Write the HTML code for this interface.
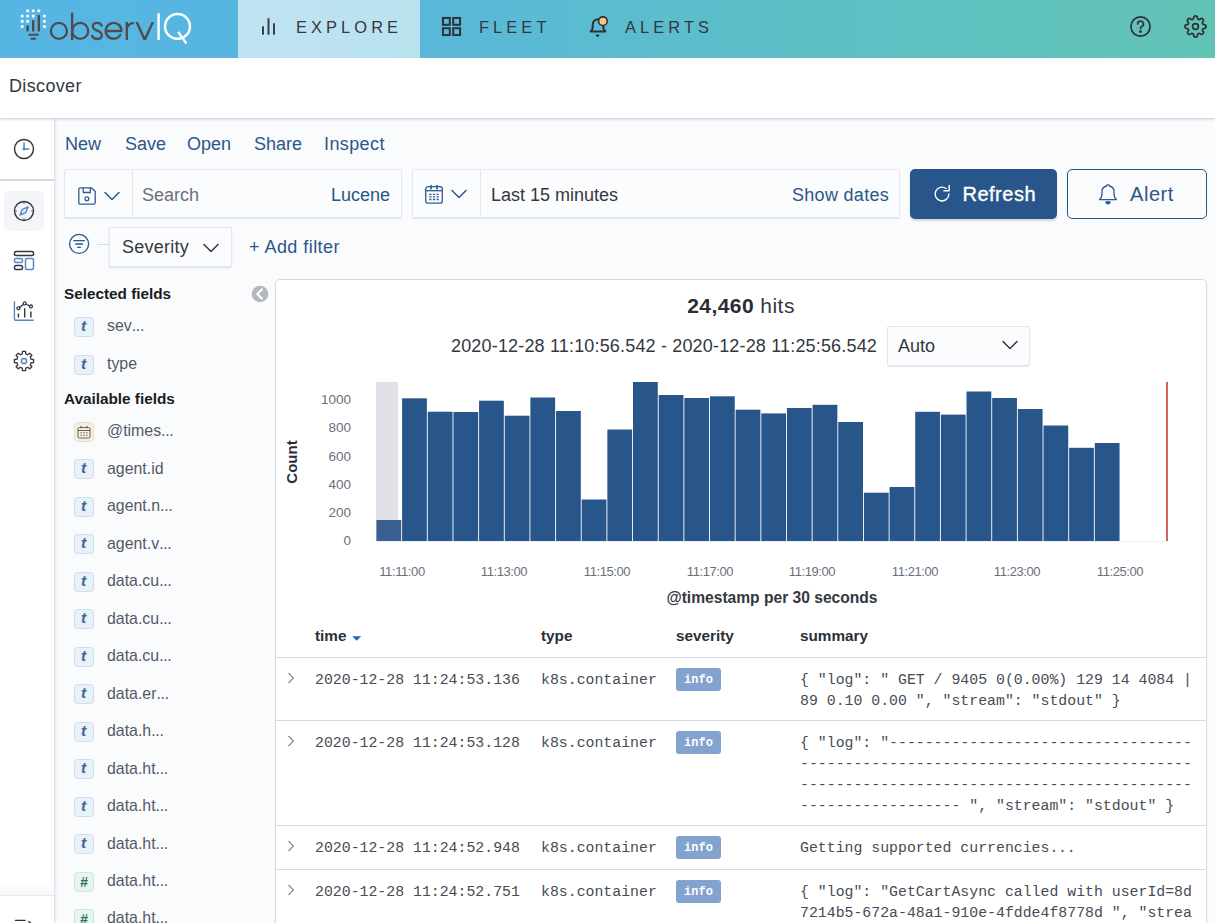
<!DOCTYPE html>
<html>
<head>
<meta charset="utf-8">
<title>Discover</title>
<style>
*{box-sizing:border-box;margin:0;padding:0}
html,body{width:1215px;height:923px;overflow:hidden;background:#fafbfd;font-family:"Liberation Sans",sans-serif;color:#343741}
.abs{position:absolute}
.t{position:absolute;white-space:nowrap;line-height:1}
#hdr{position:absolute;left:0;top:0;width:1215px;height:58px;background:linear-gradient(90deg,#56b5e3 0%,#57b6e0 20%,#5ab9d6 40%,#5dbfc6 65%,#62c4b5 100%)}
#hdr .tab{position:absolute;left:238px;top:0;width:182px;height:58px;background:linear-gradient(90deg,#c0e3f3,#b9e2ef)}
.navt{position:absolute;top:17px;font-size:16.400px;letter-spacing:4.100px;color:#33373e;white-space:nowrap;line-height:20px}
#disc{position:absolute;left:0;top:58px;width:1215px;height:61px;z-index:2;background:#fff;border-bottom:1px solid #d3dae6;box-shadow:0 2px 2px -1px rgba(152,162,179,.3)}
#lnav{position:absolute;left:0;top:119px;width:55px;height:804px;background:#fff;border-right:1px solid #dde2eb;box-shadow:1px 0 2px rgba(152,162,179,.2)}
.lnk{color:#2b5687}
#side{position:absolute;left:55px;top:270px;width:218px;height:660px}
.fi{position:absolute;left:74px;width:20px;height:20px;border-radius:3.500px;border:1px solid #cfdcef;background:#eaf0f8;color:#3c689a;font-family:"Liberation Sans",sans-serif;font-style:italic;font-weight:bold;font-size:15.500px;text-align:center;line-height:16.500px;text-indent:-1px}
.fi.n{background:#e8f5ef;border-color:#cbe9db;color:#2f7660;font-size:14px;line-height:18px;text-indent:0}
.fi.d{background:#f3efe4;border-color:#e5dec9}
.fn{position:absolute;margin-top:.500px;left:107px;font-size:15.900px;color:#535966;white-space:nowrap;line-height:20px}
.sh{position:absolute;left:64px;font-size:15.300px;font-weight:bold;color:#1a1c21;white-space:nowrap;line-height:20px}
#panel{position:absolute;left:275px;top:279px;width:932px;height:700px;background:#fff;border:1px solid #d3dae6;border-radius:5px;box-shadow:0 2px 2px -1px rgba(152,162,179,.3)}
.mono{font-family:"Liberation Mono",monospace}
.row{position:absolute;left:276px;width:930px;border-top:1px solid #d3dae6}
.cell{position:absolute;margin-top:1.500px;font-family:"Liberation Mono",monospace;font-size:14.85px;line-height:21px;color:#484c55;white-space:pre}
.badge{position:absolute;margin-top:-1px;left:676px;width:45px;height:23px;border-radius:3px;background:#82a3ce;color:#fff;font-family:"Liberation Mono",monospace;font-weight:bold;font-size:12px;line-height:25.500px;text-align:center}
.th{position:absolute;top:626px;font-size:15.300px;font-weight:bold;color:#2c2f37;line-height:20px}
.yl{position:absolute;margin-top:.500px;width:40px;left:311px;text-align:right;font-size:13.500px;color:#69707d;line-height:14px}
.xl{position:absolute;top:565px;width:80px;text-align:center;font-size:13px;letter-spacing:-0.4px;color:#69707d;line-height:14px}
</style>
</head>
<body>
<!-- HEADER -->
<div id="hdr">
  <div class="tab"></div>
  <!-- logo -->
  <svg class="abs" style="left:0;top:0" width="238" height="58" viewBox="0 0 238 58">
    <g fill="#fff">
      <circle cx="27.600" cy="10.800" r="1.550"/><circle cx="33.200" cy="10.800" r="1.550"/><circle cx="38.800" cy="10.800" r="1.550"/>
      <circle cx="22.200" cy="16.100" r="1.550"/><circle cx="27.600" cy="16.100" r="1.550"/><circle cx="33.200" cy="16.100" r="1.550"/><circle cx="44.400" cy="16.100" r="1.550"/>
      <circle cx="22.200" cy="21.300" r="1.550"/><circle cx="27.600" cy="21.300" r="1.550"/><circle cx="44.400" cy="21.300" r="1.550"/>
      <circle cx="22.200" cy="26.500" r="1.550"/><circle cx="44.400" cy="26.500" r="1.550"/>
    </g>
    <g stroke="#4f4b4d" stroke-width="2.400" stroke-linecap="round" fill="none">
      <path d="M27.600 26.400v4M33.200 21.100v9.300M38.800 15.900v14.500"/>
      <path d="M29.200 34.700h8.600M31.500 38.800h3.600" stroke-width="2.100"/>
    </g>
    <g stroke="#4f4b4d" stroke-width="2.300" fill="none">
      <circle cx="58.900" cy="30.900" r="8"/>
      <path d="M72.100 12.600V40.100"/><circle cx="80.200" cy="30.900" r="8"/>
      <path d="M101.700 25.600C100.900 23.800 99.300 22.900 97.200 22.900C94.500 22.900 92.900 24.400 92.900 26.400C92.900 28.800 94.900 29.700 97.300 30.600C99.900 31.600 101.800 32.700 101.800 35.300C101.800 37.600 99.900 39 97.200 39C94.900 39 93.100 37.900 92.100 35.900" stroke-linecap="round"/>
      <path d="M105.700 31H121.500A7.900 7.900 0 1 0 120.300 35" stroke-linecap="round" stroke-linejoin="round"/>
      <path d="M126.800 22V39.900M126.800 29.800C126.800 25.600 129.600 23 134 23.200"/>
    </g>
    <path d="M135.400 22h2.500l6.900 14.800 6.800-14.800h2.500l-8.100 17.900h-2.500z" fill="#4f4b4d"/>
    <rect x="157.400" y="13.200" width="2.400" height="26.700" fill="#fff"/>
    <circle cx="177.500" cy="26.400" r="12.450" fill="none" stroke="#fff" stroke-width="2.500"/>
    <path d="M178.200 31.900l8.100 11.500" stroke="#fff" stroke-width="2.500"/>
  </svg>
  <!-- explore icon -->
  <svg class="abs" style="left:258px;top:14px" width="24" height="24" viewBox="0 0 24 24" fill="none" stroke="#3a3f47" stroke-width="2" stroke-linecap="round"><path d="M5 13v7M10.5 5v15M16 10v10"/></svg>
  <div class="navt" style="left:296px">EXPLORE</div>
  <svg class="abs" style="left:440px;top:15px" width="23.500" height="23.500" viewBox="0 0 24 24" fill="none" stroke="#2e3036" stroke-width="2"><rect x="3" y="3" width="7" height="7"/><rect x="13.5" y="3" width="7" height="7"/><rect x="3" y="13.5" width="7" height="7"/><rect x="13.5" y="13.5" width="7" height="7"/></svg>
  <div class="navt" style="left:479px">FLEET</div>
  <svg class="abs" style="left:586px;top:13px" width="26" height="28" viewBox="0 0 26 28" fill="none" stroke="#2e3036" stroke-width="2" stroke-linecap="round" stroke-linejoin="round"><path d="M4.600 18.500h14.800c-1.800-1.400-2.200-3-2.200-5.800V11.500a5.200 5.200 0 0 0-10.400 0v1.200c0 2.800-.4 4.400-2.200 5.800z"/><path d="M10.400 22.200l1.100 1 1.100-1" stroke-width="1.600"/><circle cx="16.900" cy="8.200" r="4.300" fill="#fbc877" stroke="#2e3036" stroke-width="1.600"/></svg>
  <div class="navt" style="left:625px">ALERTS</div>
  <!-- help -->
  <svg class="abs" style="left:1129px;top:15px" width="23" height="23" viewBox="0 0 24 24" fill="none" stroke="#2e3138" stroke-width="1.800" stroke-linecap="round"><circle cx="12" cy="12" r="10"/><path d="M9 9.300a3 3 0 1 1 4.300 2.700c-.9.500-1.300 1-1.300 2.200"/><circle cx="12" cy="17.300" r=".6" fill="#2e3138"/></svg>
  <!-- gear -->
  <svg class="abs" style="left:1184px;top:15px" width="23" height="23" viewBox="0 0 24 24" fill="none" stroke="#2e3138" stroke-width="1.800" stroke-linejoin="round"><circle cx="12" cy="12" r="3"/><path d="M19.400 15a1.650 1.650 0 0 0 .33 1.820l.060.060a2 2 0 1 1-2.830 2.830l-.060-.060a1.650 1.650 0 0 0-1.820-.33 1.650 1.650 0 0 0-1 1.510V21a2 2 0 0 1-4 0v-.090A1.650 1.650 0 0 0 9 19.400a1.650 1.650 0 0 0-1.820.33l-.060.060a2 2 0 1 1-2.830-2.830l.060-.060a1.650 1.650 0 0 0 .33-1.820 1.650 1.650 0 0 0-1.510-1H3a2 2 0 0 1 0-4h.090A1.650 1.650 0 0 0 4.600 9a1.650 1.650 0 0 0-.33-1.820l-.060-.060a2 2 0 1 1 2.830-2.830l.060.060a1.650 1.650 0 0 0 1.820.33H9a1.650 1.650 0 0 0 1-1.510V3a2 2 0 0 1 4 0v.090a1.650 1.650 0 0 0 1 1.510 1.650 1.650 0 0 0 1.820-.33l.060-.060a2 2 0 1 1 2.830 2.830l-.060.060a1.650 1.650 0 0 0-.33 1.820V9a1.650 1.650 0 0 0 1.510 1H21a2 2 0 0 1 0 4h-.090a1.650 1.650 0 0 0-1.510 1z"/></svg>
</div>
<!-- DISCOVER BAR -->
<div id="disc"><div class="t" style="left:9px;top:18px;font-size:18px;letter-spacing:.35px;color:#343741;line-height:20px">Discover</div></div>
<!-- LEFT NAV -->
<div id="lnav"></div>
<!-- left nav icons -->
<div class="abs" style="left:0;top:179px;width:54px;height:2px;background:#d3dae6"></div>
<div class="abs" style="left:4px;top:191px;width:40px;height:40px;border-radius:5px;background:#f3f5f9"></div>
<svg class="abs" style="left:12px;top:137px" width="24" height="24" viewBox="0 0 24 24" fill="none" stroke-width="1.500"><circle cx="12" cy="12" r="9.500" stroke="#343741"/><path d="M12 5.200v6.800h5.300" stroke="#5a84c4" stroke-width="1.500"/><circle cx="12" cy="12" r="1.500" fill="#5a84c4"/></svg>
<svg class="abs" style="left:12px;top:199px" width="24" height="24" viewBox="0 0 24 24" fill="none" stroke-width="1.400"><circle cx="12" cy="12" r="9.500" stroke="#343741"/><path d="M16 8l-2.400 5.600L8 16l2.400-5.600z" stroke="#5a84c4" stroke-linejoin="round"/><path d="M12 3.500v1.200M12 19.300v1.200M3.500 12h1.200M19.300 12h1.200" stroke="#343741" stroke-width="1.200"/></svg>
<svg class="abs" style="left:12px;top:249px" width="24" height="24" viewBox="0 0 24 24" fill="none" stroke-width="1.500"><rect x="2.500" y="2.500" width="19" height="4" rx="1.500" stroke="#343741"/><rect x="2.500" y="9.500" width="8" height="4" rx="1.500" stroke="#5a84c4"/><rect x="2.500" y="16.500" width="8" height="4" rx="1.500" stroke="#343741"/><rect x="13.500" y="9.500" width="8" height="11" rx="1.500" stroke="#5a84c4"/></svg>
<svg class="abs" style="left:12px;top:299px" width="24" height="24" viewBox="0 0 24 24" fill="none" stroke-width="1.300"><path d="M2.400 2.300V20a1.200 1.200 0 0 0 1.200 1.200H21.800" stroke="#5a84c4" stroke-width="1.400"/><path d="M6.400 14.400v4.100M12.700 9.300v9.200M18.900 12.500v6" stroke="#343741" stroke-width="1.400"/><path d="M6.400 9.300l6.300-4.900 6.200 3.100" stroke="#343741"/><circle cx="6.400" cy="9.300" r="1.500" fill="#fff" stroke="#343741"/><circle cx="12.700" cy="4.400" r="1.500" fill="#fff" stroke="#343741"/><circle cx="18.900" cy="7.500" r="1.500" fill="#fff" stroke="#343741"/></svg>
<svg class="abs" style="left:12px;top:349px" width="24" height="24" viewBox="0 0 24 24" fill="none" stroke-width="1.300" stroke-linejoin="round"><circle cx="12" cy="12" r="2.600" stroke="#5a84c4" stroke-width="1.500"/><path stroke="#343741" d="M10.23 4.92 L10.48 2.42 L13.52 2.42 L13.77 4.92 L15.76 5.74 L17.70 4.15 L19.85 6.30 L18.26 8.24 L19.08 10.23 L21.58 10.48 L21.58 13.52 L19.08 13.77 L18.26 15.76 L19.85 17.70 L17.70 19.85 L15.76 18.26 L13.77 19.08 L13.52 21.58 L10.48 21.58 L10.23 19.08 L8.24 18.26 L6.30 19.85 L4.15 17.70 L5.74 15.76 L4.92 13.77 L2.42 13.52 L2.42 10.48 L4.92 10.23 L5.74 8.24 L4.15 6.30 L6.30 4.15 L8.24 5.74Z"/></svg>
<div class="abs" style="left:0;top:882px;width:54px;height:14px;background:linear-gradient(180deg,rgba(255,255,255,0),#f6f7f9)"></div><div class="abs" style="left:0;top:895px;width:54px;height:1px;background:#e6e9ef"></div>
<svg class="abs" style="left:12px;top:914px" width="24" height="12" viewBox="0 0 24 12" fill="none" stroke="#2e3138" stroke-width="1.400" stroke-linecap="round"><path d="M3.500 6.400h9.500M16.800 7.500l3 3"/></svg>

<!-- top nav links -->
<div class="t lnk" style="left:65px;top:134px;font-size:18px;line-height:20px">New</div>
<div class="t lnk" style="left:125px;top:134px;font-size:18px;line-height:20px">Save</div>
<div class="t lnk" style="left:187px;top:134px;font-size:18px;line-height:20px">Open</div>
<div class="t lnk" style="left:254px;top:134px;font-size:18px;line-height:20px">Share</div>
<div class="t lnk" style="left:324px;top:134px;font-size:18px;line-height:20px;letter-spacing:.4px">Inspect</div>
<!-- query bar -->
<div class="abs" style="left:64px;top:169px;width:338px;height:49px;background:#fbfcfd;border:1px solid #e3e7ee;border-radius:2px;box-shadow:0 1px 1px rgba(152,162,179,.25)"></div>
<div class="abs" style="left:132px;top:170px;width:1px;height:47px;background:#e3e7ee"></div>
<svg class="abs" style="left:77px;top:186px" width="20" height="20" viewBox="0 0 20 20" fill="none" stroke="#2f5c90" stroke-width="1.300" stroke-linejoin="round"><path d="M1.800 3.300a1.500 1.500 0 0 1 1.500-1.500h11.200l3.700 3.700v11.200a1.500 1.500 0 0 1-1.500 1.500h-13.400a1.500 1.500 0 0 1-1.500-1.500z"/><path d="M6.200 1.800v4.700h7.200V1.800"/><circle cx="9.900" cy="12.700" r="1.900"/></svg>
<svg class="abs" style="left:103px;top:189px" width="18" height="14" viewBox="0 0 18 14" fill="none" stroke="#2b5687" stroke-width="1.500" stroke-linecap="round" stroke-linejoin="round"><path d="M2 3.500l7 7 7-7"/></svg>
<div class="t" style="left:142px;top:185px;font-size:18px;line-height:20px;color:#69707d">Search</div>
<div class="t lnk" style="left:331px;top:185px;font-size:18px;line-height:20px">Lucene</div>
<!-- date picker -->
<div class="abs" style="left:412px;top:169px;width:488px;height:49px;background:#fbfcfd;border:1px solid #e3e7ee;border-radius:2px;box-shadow:0 1px 1px rgba(152,162,179,.25)"></div>
<div class="abs" style="left:480px;top:170px;width:1px;height:47px;background:#e3e7ee"></div>
<svg class="abs" style="left:424px;top:184px" width="20" height="20" viewBox="0 0 20 20" fill="none" stroke="#2f5c90" stroke-width="1.300"><rect x="1.700" y="2.700" width="16.600" height="16.500" rx="2.300"/><path d="M1.700 6.700h16.600"/><path d="M7 1.700v3M13 1.700v3" stroke-linecap="round" stroke-width="1.700"/><path d="M5.300 10.300h2.200M8.900 10.300h2.200M12.500 10.300h2.200M5.300 12.900h2.200M8.900 12.900h2.200M12.500 12.900h2.200M5.300 15.500h2.200M8.900 15.500h2.200M12.500 15.500h2.200" stroke-width="1.300"/></svg>
<svg class="abs" style="left:450px;top:187px" width="18" height="14" viewBox="0 0 18 14" fill="none" stroke="#2b5687" stroke-width="1.500" stroke-linecap="round" stroke-linejoin="round"><path d="M2 3.500l7 7 7-7"/></svg>
<div class="t" style="left:491px;top:185px;font-size:18px;line-height:20px;color:#343741">Last 15 minutes</div>
<div class="t lnk" style="left:792px;top:185px;font-size:18px;line-height:20px;letter-spacing:.3px">Show dates</div>
<!-- refresh -->
<div class="abs" style="left:910px;top:169px;width:147px;height:50px;background:#28568a;border-radius:5px;box-shadow:0 2px 2px rgba(40,86,138,.2)"></div>
<svg class="abs" style="left:932px;top:184px" width="20" height="20" viewBox="0 0 20 20" fill="none" stroke="#fff" stroke-width="1.400" stroke-linecap="round" stroke-linejoin="round"><path d="M16.900 10a6.900 6.900 0 1 1-2.800-5.500"/><path d="M17.200 1.400v5.300h-5.300"/></svg>
<div id="rf" class="t" style="left:962.500px;top:183px;font-size:20px;line-height:22px;letter-spacing:.5px;color:#fff;-webkit-text-stroke:.35px #fff">Refresh</div>
<!-- alert -->
<div class="abs" style="left:1067px;top:169px;width:140px;height:50px;background:#fafbfd;border:1px solid #28568a;border-radius:5px"></div>
<svg class="abs" style="left:1097px;top:182px" width="22" height="24" viewBox="0 0 22 24" fill="none" stroke="#2f5c90" stroke-width="1.300" stroke-linecap="round" stroke-linejoin="round"><path d="M2.600 17.600h16.800c-1.900-1.500-2.400-3.400-2.400-6.300V9.900a5.800 5.800 0 0 0-4.600-5.900 1.400 1.400 0 0 0-2.800 0A5.800 5.800 0 0 0 5 9.900v1.400c0 2.900-.5 4.800-2.400 6.300z"/><path d="M9 19.800a2 2 0 0 0 4 0z" fill="#2f5c90"/></svg>
<div id="al" class="t lnk" style="left:1130px;top:183px;font-size:20px;line-height:22px;letter-spacing:.55px">Alert</div>
<!-- filter bar -->
<svg class="abs" style="left:67px;top:232px" width="24" height="24" viewBox="0 0 24 24" fill="none" stroke="#2b5687" stroke-width="1.300" stroke-linecap="round"><circle cx="12.100" cy="11.900" r="9.500"/><path d="M6.800 8.700h10.600M8.700 12h6.800M10.700 15.300h2.800"/></svg>
<div class="abs" style="left:97px;top:244px;width:12px;height:1px;background:#d3dae6"></div>
<div class="abs" style="left:109px;top:227px;width:123px;height:40px;background:#fbfcfd;border:1px solid #e3e7ee;border-radius:2px;box-shadow:0 1px 2px rgba(152,162,179,.3)"></div>
<div class="t" style="left:122px;top:237px;font-size:18px;line-height:20px;letter-spacing:.25px;color:#343741">Severity</div>
<svg class="abs" style="left:202px;top:240.500px" width="18" height="14" viewBox="0 0 18 14" fill="none" stroke="#343741" stroke-width="1.500" stroke-linecap="round" stroke-linejoin="round"><path d="M2 3.500l7 7 7-7"/></svg>
<div class="t lnk" style="left:249px;top:237px;font-size:18px;line-height:20px;letter-spacing:.45px">+ Add filter</div>

<!-- sidebar -->
<div class="sh" style="top:284px">Selected fields</div>
<svg class="abs" style="left:251px;top:285px" width="18" height="18" viewBox="0 0 18 18"><circle cx="9" cy="9" r="8.300" fill="#b4b7bd"/><path d="M10.800 4.500L6.300 9l4.500 4.500" fill="none" stroke="#fff" stroke-width="2.200" stroke-linecap="round" stroke-linejoin="round"/></svg>
<div class="fi" style="top:317.0px">t</div>
<div class="fn" style="top:315px">sev<span style="letter-spacing:-.3px">...</span></div>
<div class="fi" style="top:354.5px">t</div>
<div class="fn" style="top:353px">type</div>
<div class="sh" style="top:389px">Available fields</div>
<div class="fi d" style="top:421.9px"></div><svg class="abs" style="left:77px;top:424.9px" width="14" height="14" viewBox="0 0 14 14" fill="none" stroke="#6b6250" stroke-width="1"><rect x="1" y="2.500" width="12" height="10.500" rx="1.500"/><path d="M1 5.500h12M4 .8v2.500M10 .8v2.500M3.500 7.800h1.500M6.300 7.800h1.500M9 7.800h1.500M3.500 10.300h1.500M6.300 10.300h1.500M9 10.300h1.500"/></svg>
<div class="fn" style="top:420px">@times<span style="letter-spacing:-.3px">...</span></div>
<div class="fi" style="top:459.4px">t</div>
<div class="fn" style="top:458px">agent.id</div>
<div class="fi" style="top:496.9px">t</div>
<div class="fn" style="top:495px">agent.n<span style="letter-spacing:-.3px">...</span></div>
<div class="fi" style="top:534.4px">t</div>
<div class="fn" style="top:533px">agent.v<span style="letter-spacing:-.3px">...</span></div>
<div class="fi" style="top:571.9px">t</div>
<div class="fn" style="top:570px">data.cu<span style="letter-spacing:-.3px">...</span></div>
<div class="fi" style="top:609.4px">t</div>
<div class="fn" style="top:608px">data.cu<span style="letter-spacing:-.3px">...</span></div>
<div class="fi" style="top:646.9px">t</div>
<div class="fn" style="top:645px">data.cu<span style="letter-spacing:-.3px">...</span></div>
<div class="fi" style="top:684.4px">t</div>
<div class="fn" style="top:683px">data.er<span style="letter-spacing:-.3px">...</span></div>
<div class="fi" style="top:721.9px">t</div>
<div class="fn" style="top:720px">data.h<span style="letter-spacing:-.3px">...</span></div>
<div class="fi" style="top:759.4px">t</div>
<div class="fn" style="top:758px">data.ht<span style="letter-spacing:-.3px">...</span></div>
<div class="fi" style="top:796.9px">t</div>
<div class="fn" style="top:795px">data.ht<span style="letter-spacing:-.3px">...</span></div>
<div class="fi" style="top:834.4px">t</div>
<div class="fn" style="top:833px">data.ht<span style="letter-spacing:-.3px">...</span></div>
<div class="fi n" style="top:871.9px">#</div>
<div class="fn" style="top:870px">data.ht<span style="letter-spacing:-.3px">...</span></div>
<div class="fi n" style="top:909.4px">#</div>
<div class="fn" style="top:907px">data.ht<span style="letter-spacing:-.3px">...</span></div>

<!-- panel -->
<div id="panel"></div>
<div class="t" style="left:441px;top:295px;width:600px;text-align:center;font-size:21px;line-height:22px;letter-spacing:.45px;color:#343741"><b style="color:#2a2d36">24,460</b> hits</div>
<div class="t" style="left:451px;top:336px;font-size:18px;line-height:20px;color:#343741;letter-spacing:.170px">2020-12-28 11:10:56.542 - 2020-12-28 11:25:56.542</div>
<div class="abs" style="left:887px;top:326px;width:143px;height:40px;background:#fbfcfd;border:1px solid #e3e7ee;border-radius:2px;box-shadow:0 1px 1px rgba(152,162,179,.25)"></div>
<div class="t" style="left:898px;top:336px;font-size:18px;line-height:20px;color:#343741">Auto</div>
<svg class="abs" style="left:1001px;top:338px" width="18" height="14" viewBox="0 0 18 14" fill="none" stroke="#343741" stroke-width="1.500" stroke-linecap="round" stroke-linejoin="round"><path d="M2 3.500l7 7 7-7"/></svg>
<svg class="abs" style="left:0;top:0" width="1215" height="923" viewBox="0 0 1215 923" shape-rendering="crispEdges"><rect x="376" y="382" width="21.500" height="159" fill="#dfe1e6"/><rect x="376" y="540.500" width="792" height="1" fill="#eef0f4"/><rect x="376.45" y="520.0" width="24.76" height="21.0" fill="#3a5f90" shape-rendering="auto"/><rect x="402.10" y="398.3" width="24.76" height="142.7" fill="#28568a" shape-rendering="auto"/><rect x="427.76" y="411.7" width="24.76" height="129.3" fill="#28568a" shape-rendering="auto"/><rect x="453.42" y="412.0" width="24.76" height="129.0" fill="#28568a" shape-rendering="auto"/><rect x="479.07" y="400.7" width="24.76" height="140.3" fill="#28568a" shape-rendering="auto"/><rect x="504.73" y="415.7" width="24.76" height="125.3" fill="#28568a" shape-rendering="auto"/><rect x="530.38" y="397.5" width="24.76" height="143.5" fill="#28568a" shape-rendering="auto"/><rect x="556.04" y="411.0" width="24.76" height="130.0" fill="#28568a" shape-rendering="auto"/><rect x="581.69" y="499.5" width="24.76" height="41.5" fill="#28568a" shape-rendering="auto"/><rect x="607.35" y="429.5" width="24.76" height="111.5" fill="#28568a" shape-rendering="auto"/><rect x="633.00" y="382.0" width="24.76" height="159.0" fill="#28568a" shape-rendering="auto"/><rect x="658.66" y="395.0" width="24.76" height="146.0" fill="#28568a" shape-rendering="auto"/><rect x="684.31" y="398.0" width="24.76" height="143.0" fill="#28568a" shape-rendering="auto"/><rect x="709.97" y="396.3" width="24.76" height="144.7" fill="#28568a" shape-rendering="auto"/><rect x="735.62" y="409.7" width="24.76" height="131.3" fill="#28568a" shape-rendering="auto"/><rect x="761.28" y="413.4" width="24.76" height="127.6" fill="#28568a" shape-rendering="auto"/><rect x="786.93" y="408.0" width="24.76" height="133.0" fill="#28568a" shape-rendering="auto"/><rect x="812.59" y="404.8" width="24.76" height="136.2" fill="#28568a" shape-rendering="auto"/><rect x="838.24" y="422.0" width="24.76" height="119.0" fill="#28568a" shape-rendering="auto"/><rect x="863.90" y="492.7" width="24.76" height="48.3" fill="#28568a" shape-rendering="auto"/><rect x="889.55" y="487.0" width="24.76" height="54.0" fill="#28568a" shape-rendering="auto"/><rect x="915.21" y="411.8" width="24.76" height="129.2" fill="#28568a" shape-rendering="auto"/><rect x="940.86" y="414.6" width="24.76" height="126.4" fill="#28568a" shape-rendering="auto"/><rect x="966.52" y="391.5" width="24.76" height="149.5" fill="#28568a" shape-rendering="auto"/><rect x="992.17" y="398.0" width="24.76" height="143.0" fill="#28568a" shape-rendering="auto"/><rect x="1017.83" y="409.0" width="24.76" height="132.0" fill="#28568a" shape-rendering="auto"/><rect x="1043.48" y="425.5" width="24.76" height="115.5" fill="#28568a" shape-rendering="auto"/><rect x="1069.13" y="447.8" width="24.76" height="93.2" fill="#28568a" shape-rendering="auto"/><rect x="1094.79" y="443.0" width="24.76" height="98.0" fill="#28568a" shape-rendering="auto"/><rect x="1166" y="382" width="2" height="159" fill="#d4635c"/></svg>
<div class="yl" style="top:392px">1000</div>
<div class="yl" style="top:420px">800</div>
<div class="yl" style="top:449px">600</div>
<div class="yl" style="top:477px">400</div>
<div class="yl" style="top:505px">200</div>
<div class="yl" style="top:533px">0</div>
<div class="xl" style="left:362px">11:11:00</div>
<div class="xl" style="left:464px">11:13:00</div>
<div class="xl" style="left:567px">11:15:00</div>
<div class="xl" style="left:670px">11:17:00</div>
<div class="xl" style="left:772px">11:19:00</div>
<div class="xl" style="left:875px">11:21:00</div>
<div class="xl" style="left:977px">11:23:00</div>
<div class="xl" style="left:1080px">11:25:00</div>
<div class="t" style="left:572px;top:588px;width:400px;text-align:center;font-size:15.600px;font-weight:bold;line-height:20px;color:#343741">@timestamp per 30 seconds</div>
<div class="t" style="left:262px;top:451.500px;width:60px;text-align:center;font-size:15px;font-weight:bold;line-height:20px;color:#2a2d36;transform:rotate(-90deg)">Count</div>
<div class="th" style="left:315px">time</div>
<svg class="abs" style="left:352px;top:636px" width="10" height="6" viewBox="0 0 10 6"><path d="M0.200 0.300h9L4.700 4.800z" fill="#2266c2"/></svg>
<div class="th" style="left:541px">type</div><div class="th" style="left:676px">severity</div><div class="th" style="left:800px">summary</div>
<div class="row" style="top:657px;height:63px"></div>
<svg class="abs" style="left:285px;top:671px" width="12" height="14" viewBox="0 0 12 14" fill="none" stroke="#343741" stroke-width="1" stroke-linecap="round" stroke-linejoin="round"><path d="M3.800 2.300l4.600 4.700-4.600 4.700"/></svg>
<div class="cell" style="left:315px;top:668px">2020-12-28 11:24:53.136</div>
<div class="cell" style="left:541px;top:668px">k8s.container</div>
<div class="badge" style="top:669px">info</div>
<div class="cell" style="left:800px;top:668px">{ "log": " GET / 9405 0(0.00%) 129 14 4084 |
89 0.10 0.00 ", "stream": "stdout" }</div>
<div class="row" style="top:720px;height:105px"></div>
<svg class="abs" style="left:285px;top:734px" width="12" height="14" viewBox="0 0 12 14" fill="none" stroke="#343741" stroke-width="1" stroke-linecap="round" stroke-linejoin="round"><path d="M3.800 2.300l4.600 4.700-4.600 4.700"/></svg>
<div class="cell" style="left:315px;top:731px">2020-12-28 11:24:53.128</div>
<div class="cell" style="left:541px;top:731px">k8s.container</div>
<div class="badge" style="top:732px">info</div>
<div class="cell" style="left:800px;top:731px">{ "log": "----------------------------------
--------------------------------------------
--------------------------------------------
------------------ ", "stream": "stdout" }</div>
<div class="row" style="top:825px;height:44px"></div>
<svg class="abs" style="left:285px;top:839px" width="12" height="14" viewBox="0 0 12 14" fill="none" stroke="#343741" stroke-width="1" stroke-linecap="round" stroke-linejoin="round"><path d="M3.800 2.300l4.600 4.700-4.600 4.700"/></svg>
<div class="cell" style="left:315px;top:836px">2020-12-28 11:24:52.948</div>
<div class="cell" style="left:541px;top:836px">k8s.container</div>
<div class="badge" style="top:837px">info</div>
<div class="cell" style="left:800px;top:836px">Getting supported currencies<span style="letter-spacing:-.3px">...</span></div>
<div class="row" style="top:869px;height:70px"></div>
<svg class="abs" style="left:285px;top:883px" width="12" height="14" viewBox="0 0 12 14" fill="none" stroke="#343741" stroke-width="1" stroke-linecap="round" stroke-linejoin="round"><path d="M3.800 2.300l4.600 4.700-4.600 4.700"/></svg>
<div class="cell" style="left:315px;top:880px">2020-12-28 11:24:52.751</div>
<div class="cell" style="left:541px;top:880px">k8s.container</div>
<div class="badge" style="top:881px">info</div>
<div class="cell" style="left:800px;top:880px">{ "log": "GetCartAsync called with userId=8d
7214b5-672a-48a1-910e-4fdde4f8778d ", "strea</div>

</body>
</html>
